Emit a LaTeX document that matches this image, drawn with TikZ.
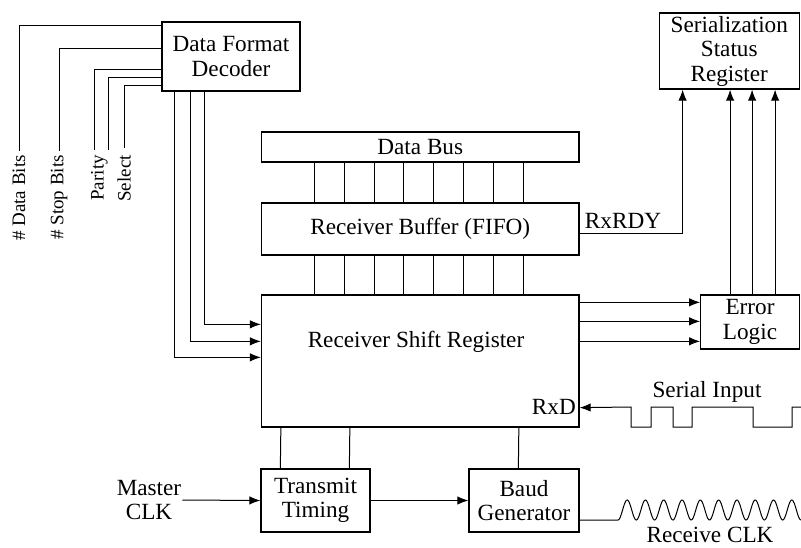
\documentclass[tikz,border=0pt]{standalone}
\usepackage{fontspec}
\setmainfont{Liberation Serif}
\usetikzlibrary{arrows.meta}
\begin{document}
\begin{tikzpicture}[x=1pt,y=-1pt,
  box/.style={draw, line width=1.3pt, inner sep=0pt, align=center, font=\fontsize{23.2}{24.5}\selectfont},
  txt/.style={inner sep=1pt, align=center, font=\fontsize{23.2}{24.5}\selectfont},
  vlab/.style={rotate=90, anchor=east, inner sep=0pt, font=\fontsize{19}{21}\selectfont},
  wire/.style={line width=1pt},
  arr/.style={line width=1pt, -{Latex[length=11pt,width=8.5pt]}}]
\useasboundingbox (0,0) rectangle (801,547);

% boxes
\node[box, minimum width=138pt, minimum height=69pt] (dfd) at (231,56.5) {Data Format\\Decoder};
\node[box, minimum width=140pt, minimum height=76pt] (ssr) at (729.25,51) {Serialization\\Status\\Register};
\node[box, minimum width=317.5pt, minimum height=30pt] (bus) at (420.25,147) {Data Bus};
\node[box, minimum width=317.5pt, minimum height=52pt] (buf) at (420.25,229) {Receiver Buffer (FIFO)};
\node[box, minimum width=317.5pt, minimum height=132pt] (rsr) at (420.25,361) {};
\node[txt] (rsrt) at (416,342) {Receiver Shift Register};
\node[txt, anchor=east] (rxd) at (577,407) {RxD};
\node[box, minimum width=98.5pt, minimum height=54pt] (err) at (750,322) {Error\\Logic};
\node[box, minimum width=109pt, minimum height=63pt] (tt) at (315.5,500.5) {Transmit\\Timing};
\node[box, minimum width=110pt, minimum height=63pt] (baud) at (524,500.5) {Baud\\Generator};

% labels
\node[txt] (mclk) at (149,500) {Master\\CLK};
\node[txt] (sil) at (707,392) {Serial Input};
\node[txt] (rcl) at (710,535) {Receive CLK};
\node[txt] (rdy) at (623,221) {RxRDY};
\node[vlab] (ldb) at (19,155) {\# Data Bits};
\node[vlab] (lsb) at (59,155) {\# Stop Bits};
\node[vlab] (lpa) at (99.5,155) {Parity};
\node[vlab] (lse) at (124,155) {Select};

% left control lines from decoder
\coordinate (pa1) at (94,150);
\coordinate (pa2) at (108,150);
\coordinate (se1) at (124,148);
\draw[wire] ([yshift=-4]dfd.north west) -| ([yshift=4]ldb.east);
\draw[wire] ([yshift=-27]dfd.north west) -| ([yshift=4]lsb.east);
\draw[wire] ([yshift=-48]dfd.north west) -| (pa1);
\draw[wire] ([yshift=-56]dfd.north west) -| (pa2);
\draw[wire] ([yshift=-64]dfd.north west) -| (se1);

% decoder to shift register
\draw[arr] ([xshift=13]dfd.south west) |- ([yshift=-63]rsr.north west);
\draw[arr] ([xshift=29]dfd.south west) |- ([yshift=-47]rsr.north west);
\draw[arr] ([xshift=43]dfd.south west) |- ([yshift=-30]rsr.north west);

% bus lines
\foreach \i in {0,...,7}{
  \draw[wire] ([xshift={53.5+29.86*\i}]bus.south west) -- ([xshift={53.5+29.86*\i}]buf.north west);
  \draw[wire] ([xshift={53.5+29.86*\i}]buf.south west) -- ([xshift={53.5+29.86*\i}]rsr.north west);
}

% RxRDY
\draw[arr] ([yshift=-4]buf.east) -| ([xshift=24]ssr.south west);

% shift register to error logic
\foreach \d in {8,27,47}{
  \path ([yshift=-\d]rsr.north east) coordinate (r\d);
  \draw[arr] (r\d) -- (r\d -| err.west);
}
% error logic to status register
\foreach \d in {30,52,75}{
  \path ([xshift=\d]err.north west) coordinate (e\d);
  \draw[arr] (e\d) -- (e\d |- ssr.south);
}

% serial input waveform
\path ([yshift=20]rsr.south east) coordinate (rx);
\draw[line width=1pt, {Latex[length=11pt,width=8.5pt]}-] (rx) -- (631,407) -- ++(0,20) -- ++(20,0) -- ++(0,-20)
  -- ++(22,0) -- ++(0,20) -- ++(19,0) -- ++(0,-20) -- ++(61,0) -- ++(0,20) -- ++(39,0) -- ++(0,-20) -- (801,407);

% bottom connections
\draw[wire] ([xshift=20]rsr.south west) -- ([xshift=20]tt.north west);
\draw[wire] ([xshift=89]rsr.south west) -- ([xshift=89]tt.north west);
\draw[wire] ([xshift=258]rsr.south west) -- ([xshift=50]baud.north west);
\draw[arr] (mclk.east) -- (tt.west);
\draw[arr] (tt.east) -- (baud.west);

% receive clock
\draw[wire] ([yshift=-19.5]baud.east) -- (618,520)
  -- plot[domain=0:3600, samples=240, smooth] ({618+0.050833*\x}, {510+10*cos(\x)});
\end{tikzpicture}
\end{document}
